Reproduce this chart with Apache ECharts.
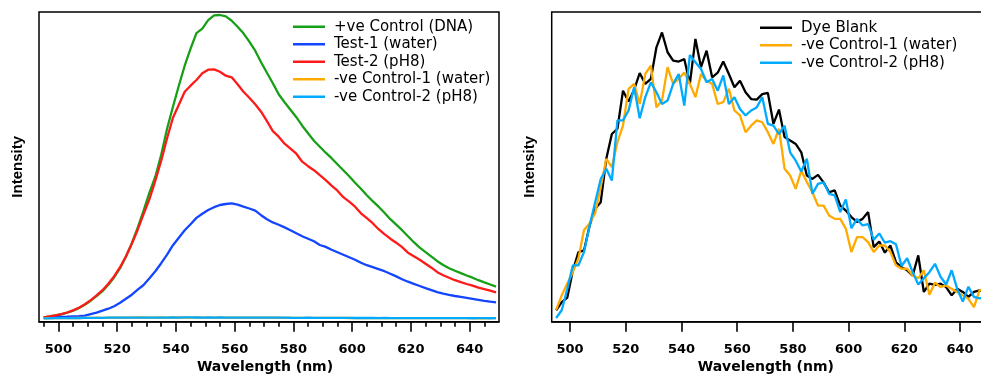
<!DOCTYPE html>
<html>
<head>
<meta charset="utf-8">
<script src="https://cdn.jsdelivr.net/npm/echarts@6.0.0/dist/echarts.min.js"></script>
<style>
  html, body { margin: 0; padding: 0; background: #fff; }
  #chart { width: 981px; height: 376px; }
</style>
</head>
<body>
<div id="chart"></div>
<script>
// Emission wavelengths (nm), shared by every spectrum
const wavelengths = [
  495, 497, 499, 501, 503, 505, 507, 509, 511, 513,
  515, 517, 519, 521, 523, 525, 527, 529, 531, 533,
  535, 537, 539, 541, 543, 545, 547, 549, 551, 553,
  555, 557, 559, 561, 563, 565, 567, 569, 571, 573,
  575, 577, 579, 581, 583, 585, 587, 589, 591, 593,
  595, 597, 599, 601, 603, 605, 607, 609, 611, 613,
  615, 617, 619, 621, 623, 625, 627, 629, 631, 633,
  635, 637, 639, 641, 643, 645, 647, 649
];

// Fluorescence intensity (a.u.)
const positiveControl = [
  100, 180, 280, 400, 560, 760, 1020, 1360, 1760, 2210,
  2710, 3360, 4110, 5010, 6160, 7510, 9060, 10760, 12560, 14160,
  16360, 18960, 21160, 23260, 25260, 26960, 28510, 28960, 29810, 30290,
  30330, 30190, 29760, 29160, 28500, 27660, 26760, 25610, 24560, 23510,
  22410, 21610, 20860, 20110, 19260, 18510, 17760, 17160, 16560, 16010,
  15410, 14810, 14210, 13560, 12960, 12310, 11710, 11160, 10560, 9910,
  9360, 8810, 8210, 7610, 7060, 6610, 6160, 5710, 5330, 5010,
  4760, 4520, 4280, 4060, 3810, 3590, 3380, 3160
];
const test1Water = [
  60, 90, 110, 140, 160, 190, 210, 260, 410, 560,
  760, 960, 1210, 1560, 1960, 2360, 2860, 3330, 4010, 4710,
  5510, 6360, 7310, 8060, 8810, 9410, 10040, 10460, 10830, 11110,
  11330, 11430, 11500, 11360, 11160, 10980, 10760, 10310, 9910, 9590,
  9360, 9090, 8810, 8510, 8210, 7960, 7710, 7330, 7140, 6860,
  6610, 6360, 6110, 5860, 5560, 5310, 5110, 4910, 4710, 4460,
  4190, 3910, 3660, 3440, 3230, 3010, 2810, 2610, 2460, 2340,
  2230, 2140, 2040, 1940, 1840, 1740, 1660, 1600
];
const test2PH8 = [
  100, 180, 290, 420, 580, 800, 1060, 1410, 1820, 2290,
  2810, 3460, 4210, 5110, 6210, 7460, 8860, 10410, 11910, 13760,
  15760, 18010, 20060, 21360, 22660, 23260, 23830, 24510, 24860, 24890,
  24660, 24260, 24100, 23410, 22660, 22060, 21410, 20660, 19710, 18710,
  18160, 17460, 16960, 16460, 15660, 15210, 14810, 14310, 13810, 13260,
  12760, 12110, 11660, 11160, 10500, 10010, 9510, 8910, 8410, 7960,
  7560, 7110, 6560, 6210, 5860, 5460, 5060, 4610, 4310, 4060,
  3810, 3610, 3430, 3260, 3060, 2910, 2760, 2600
];
const dyeBlank = [
  3.7, 6.3, 7.8, 16.5, 22.5, 23, 31, 36.5, 38.6, 52.6,
  60.6, 62.3, 74.6, 71.1, 74.9, 80.3, 76.8, 78.4, 88.6, 93.4,
  87, 84.3, 84, 84.8, 76.8, 91.3, 82.2, 87.5, 78.9, 80.4,
  84, 80, 75.7, 77.8, 74.1, 71.9, 71.7, 73.5, 73.9, 63.9,
  68.5, 59.6, 58.5, 57.4, 54.7, 47.2, 46.1, 47.4, 45, 41.8,
  42.4, 37.5, 35.9, 33.8, 32.2, 33.2, 35.4, 24.1, 25.9, 22.3,
  24.6, 19.2, 17.6, 16.6, 14.9, 21.4, 9.6, 12.3, 11.9, 12.3,
  11.2, 8.5, 10.6, 9.6, 8, 9.6, 10.1, 9.6
];
const negControl1Water = [
  3.8, 8.5, 12.3, 16, 20.5, 29.6, 31.7, 35, 43.5, 52.6,
  49.9, 58, 63.3, 75.2, 76.8, 70.3, 80, 82.7, 69.2, 71.4,
  82.2, 76.8, 78.4, 80.5, 76.8, 72.5, 80, 77.8, 76.8, 70.3,
  70.9, 75.2, 68.2, 66.6, 61.2, 63.3, 65, 64.4, 61.2, 57.4,
  62.3, 49.4, 47.2, 42.9, 48.8, 45.1, 41.8, 37.5, 37.5, 34.3,
  33.2, 33.2, 30, 22.5, 27.3, 27.3, 25.7, 22.5, 24.6, 24.6,
  22.5, 18.2, 17.1, 17.1, 14.9, 14, 16.6, 8.7, 12.6, 11.2,
  11.7, 10.6, 9.6, 8.5, 7.4, 4.7, 10.1, 10.6
];
const negControl2PH8 = [
  1.2, 3.7, 10.6, 18.2, 18.2, 22.5, 31, 38.6, 46.1, 49.4,
  45.6, 65, 65, 68.2, 75.7, 65.7, 72.5, 77.3, 74.1, 70.3,
  71.4, 76.8, 80, 69.8, 86.1, 83.8, 81.6, 77.3, 78.4, 74.6,
  79.5, 70.3, 72.5, 68.7, 66.6, 68.2, 69.2, 72.5, 63.9, 63.3,
  60.6, 63.3, 54.7, 52, 48.5, 52.6, 41.3, 44.5, 45, 41.3,
  40.8, 35.4, 39.5, 30.2, 33.2, 31.1, 31.5, 26.5, 28.5, 25.5,
  26, 25, 18, 20.5, 16, 12, 14, 16, 18.7, 14.5,
  12, 16.6, 10.5, 6.5, 11.3, 8, 7.5, 8
];

const majorTicks = [500, 520, 540, 560, 580, 600, 620, 640];
const minorTicks = [495, 505, 510, 515, 525, 530, 535, 545, 550, 555, 565, 570,
                    575, 585, 590, 595, 605, 610, 615, 625, 630, 635, 645];

const NAMES = {
  pos: '+ve Control (DNA)',
  t1: 'Test-1 (water)',
  t2: 'Test-2 (pH8)',
  n1: '-ve Control-1 (water)',
  n2: '-ve Control-2 (pH8)',
  blank: 'Dye Blank'
};
const COLORS = {
  pos: '#17a017',
  t1: '#1446ff',
  t2: '#ff1a1a',
  n1: '#ffaa00',
  n2: '#00aaff',
  blank: '#000000'
};

const pairs = vals => wavelengths.map((w, i) => [w, vals[i]]);

function spectrum(key, vals, xIdx, yIdx) {
  return {
    type: 'line',
    name: NAMES[key],
    xAxisIndex: xIdx,
    yAxisIndex: yIdx,
    data: pairs(vals),
    showSymbol: false,
    symbol: 'none',
    color: COLORS[key],
    itemStyle: { color: COLORS[key] },
    lineStyle: { width: 2.3, color: COLORS[key] },
    silent: true,
    clip: true
  };
}

const X_MIN = 493.4, X_MAX = 650;

function wavelengthAxis(gridIndex) {
  return {
    type: 'value', gridIndex, min: X_MIN, max: X_MAX, position: 'bottom',
    axisLine: { show: true, onZero: false, lineStyle: { color: '#000', width: 1.5 } },
    axisTick: { show: true, customValues: majorTicks, length: 10, inside: false,
                lineStyle: { color: '#000', width: 1.6 } },
    axisLabel: { show: true, customValues: majorTicks, margin: 21, color: '#000',
                 fontFamily: 'DejaVu Sans', fontWeight: 'bold', fontSize: 13 },
    splitLine: { show: false },
    name: 'Wavelength (nm)', nameLocation: 'middle', nameGap: 37,
    nameTextStyle: { color: '#000', fontFamily: 'DejaVu Sans', fontWeight: 'bold',
                     fontSize: 14, padding: [0, 8, 0, 0] }
  };
}

function minorAxis(gridIndex) {
  return {
    type: 'value', gridIndex, min: X_MIN, max: X_MAX, position: 'bottom',
    axisLine: { show: false, onZero: false },
    axisTick: { show: true, customValues: minorTicks, length: 5, inside: false,
                lineStyle: { color: '#000', width: 1.6 } },
    axisLabel: { show: false },
    splitLine: { show: false }
  };
}

function intensityAxis(gridIndex, min, max) {
  return {
    type: 'value', gridIndex, min, max,
    axisLine: { show: false }, axisTick: { show: false },
    axisLabel: { show: false }, splitLine: { show: false },
    name: 'Intensity', nameLocation: 'middle', nameGap: 14,
    nameTextStyle: { color: '#000', fontFamily: 'Liberation Sans', fontWeight: 'bold', fontSize: 15 }
  };
}

function legendBlock(names, left, top) {
  return {
    data: names, left, top, orient: 'vertical', padding: 0,
    icon: 'rect', itemWidth: 32, itemHeight: 2.5, itemGap: 0,
    itemStyle: { borderWidth: 0 },
    selectedMode: false,
    textStyle: { fontFamily: 'DejaVu Sans', fontSize: 15, color: '#000',
                 lineHeight: 17.5, padding: [0, 0, 0, 4] }
  };
}

const chart = echarts.init(document.getElementById('chart'), null, { renderer: 'canvas' });

chart.setOption({
  animation: false,
  backgroundColor: '#fff',
  grid: [
    { left: 39, top: 12, width: 460, height: 309.7, show: true,
      borderColor: '#000', borderWidth: 1.5, containLabel: false, outerBoundsMode: 'none' },
    { left: 551.7, top: 12, width: 436.2, height: 309.7, show: true,
      borderColor: '#000', borderWidth: 1.5, containLabel: false, outerBoundsMode: 'none' }
  ],
  xAxis: [wavelengthAxis(0), minorAxis(0), wavelengthAxis(1)],
  yAxis: [intensityAxis(0, -340, 30630), intensityAxis(1, 0, 100)],
  legend: [
    legendBlock([NAMES.pos, NAMES.t1, NAMES.t2, NAMES.n1, NAMES.n2], 293, 18),
    legendBlock([NAMES.blank, NAMES.n1, NAMES.n2], 760, 19)
  ],
  series: [
    spectrum('pos', positiveControl, 0, 0),
    spectrum('t1', test1Water, 0, 0),
    spectrum('t2', test2PH8, 0, 0),
    spectrum('n1', negControl1Water, 0, 0),
    spectrum('n2', negControl2PH8, 0, 0),
    spectrum('blank', dyeBlank, 2, 1),
    spectrum('n1', negControl1Water, 2, 1),
    spectrum('n2', negControl2PH8, 2, 1)
  ]
});
</script>
</body>
</html>
